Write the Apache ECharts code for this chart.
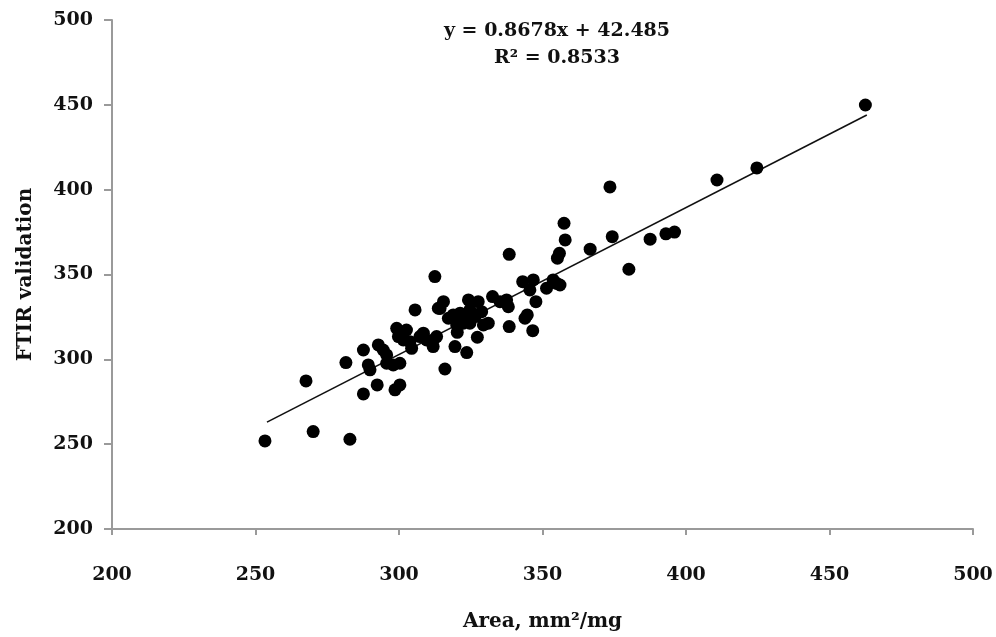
<!DOCTYPE html>
<html>
<head>
<meta charset="utf-8">
<script src="https://cdn.jsdelivr.net/npm/echarts@6/dist/echarts.min.js"></script>
<style>html,body{margin:0;padding:0;background:#fff}#c{width:996px;height:637px}</style>
</head>
<body>
<div id="c"></div>
<script>
var areaX = [253.3,270.1,282.9,267.6,281.5,287.6,287.6,292.4,289.9,289.3,292.8,294.5,295.7,298.6,300.3,295.7,298,300.3,299.2,302.6,299.8,301.5,303.8,304.4,305.6,307.3,309.6,311.9,313.1,312.5,313.7,308.5,312,316,319.5,323.6,327.3,320.3,315.5,314.3,317.2,318.9,321.3,323.6,326.5,320.1,322.4,324.7,324.2,327.6,324.7,328.8,331.1,329.4,332.6,335.2,337.5,338.1,338.4,338.4,343.1,346.8,344.7,343.9,347.7,346.6,345.6,351.4,354.9,356.1,353.7,355.9,355.2,357.5,357.9,366.6,374.3,380.1,387.5,393,396,373.5,410.8,424.7,462.5];
var ftirY = [251.9,257.4,252.9,287.3,298.1,305.5,279.6,284.9,293.8,296.7,308.5,305.5,302.6,282,284.9,297.7,296.7,297.7,318.3,317.3,313.4,311.4,310.4,306.5,329.1,313.4,311.4,307.5,313.4,348.8,330.1,315.4,311.4,294.3,307.5,304,313,315.9,334,330,324.2,326.2,327.2,324.2,325.2,320.3,321.3,321.3,335,334,329.1,328.1,321.3,320.3,337,334,335,331,361.9,319.3,345.8,346.8,326.2,324.2,334,316.9,340.9,341.9,344.8,343.8,346.8,362.5,359.6,380.2,370.4,364.9,372.3,353.1,370.8,374,375,401.6,405.7,412.8,449.9];
var trendX = [254, 463];
var trendY = [263, 444];
var xTicks = [200, 250, 300, 350, 400, 450, 500];
var yTicks = [200, 250, 300, 350, 400, 450, 500];
var equationText = 'y = 0.8678x + 42.485';
var r2Text = 'R\u00b2 = 0.8533';
var xName = 'Area, mm\u00b2/mg';
var yName = 'FTIR validation';

var pts = areaX.map(function (x, i) { return [x, ftirY[i]]; });
var trend = trendX.map(function (x, i) { return [x, trendY[i]]; });
var font = '"DejaVu Serif", "Liberation Serif", serif';
var chart = echarts.init(document.getElementById('c'), null, {renderer: 'canvas'});
chart.setOption({
  animation: false,
  backgroundColor: '#fff',
  grid: {left: 112, right: 23, top: 20, bottom: 108, containLabel: false},
  graphic: [
    {type: 'text', x: 557, y: 22, style: {text: equationText, textAlign: 'center', textVerticalAlign: 'top', font: 'bold 19px ' + font, fill: '#111'}},
    {type: 'text', x: 557, y: 49, style: {text: r2Text, textAlign: 'center', textVerticalAlign: 'top', font: 'bold 19px ' + font, fill: '#111'}}
  ],
  xAxis: {
    type: 'value', min: xTicks[0], max: xTicks[xTicks.length - 1], interval: 50,
    name: xName, nameLocation: 'middle', nameGap: 83,
    nameTextStyle: {fontFamily: font, fontWeight: 'bold', fontSize: 20, color: '#111'},
    axisLine: {show: true, onZero: false, lineStyle: {color: '#9a9a9a', width: 2}},
    axisTick: {show: true, length: 6, lineStyle: {color: '#9a9a9a', width: 2}},
    axisLabel: {margin: 37, fontFamily: font, fontWeight: 'bold', fontSize: 19, color: '#111'},
    splitLine: {show: false}
  },
  yAxis: {
    type: 'value', min: yTicks[0], max: yTicks[yTicks.length - 1], interval: 50,
    name: yName, nameLocation: 'middle', nameGap: 76, nameRotate: 90,
    nameTextStyle: {fontFamily: font, fontWeight: 'bold', fontSize: 20, color: '#111'},
    axisLine: {show: true, onZero: false, lineStyle: {color: '#9a9a9a', width: 2}},
    axisTick: {show: true, length: 8, lineStyle: {color: '#9a9a9a', width: 2}},
    axisLabel: {margin: 19, fontFamily: font, fontWeight: 'bold', fontSize: 19, color: '#111'},
    splitLine: {show: false}
  },
  series: [
    {type: 'line', data: trend, symbol: 'none', lineStyle: {color: '#111', width: 1.6}, z: 1},
    {type: 'scatter', data: pts, symbol: 'circle', symbolSize: 13, itemStyle: {color: '#000', opacity: 1}, z: 2}
  ]
});
</script>
</body>
</html>
